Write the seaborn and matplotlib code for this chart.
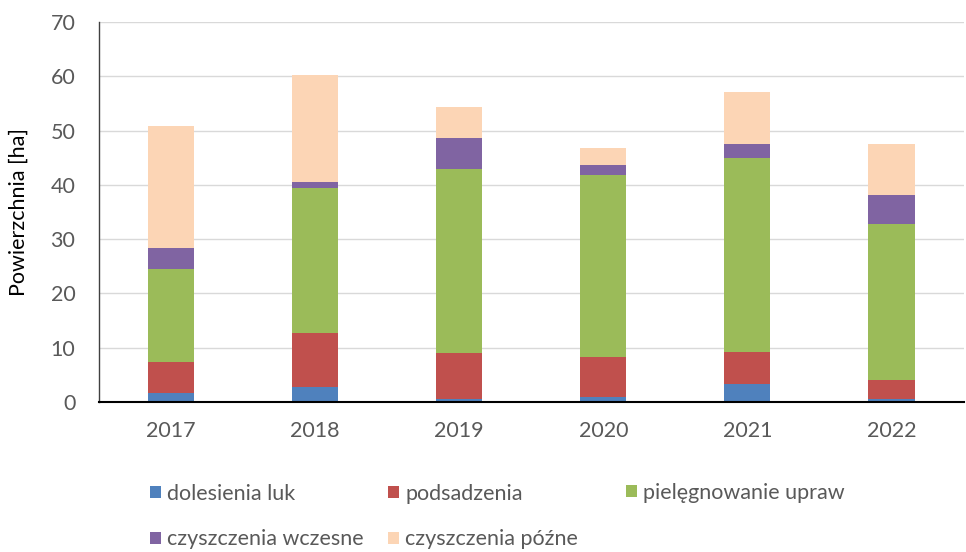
import numpy as np
import pandas as pd
import matplotlib
matplotlib.use("Agg")
import matplotlib.pyplot as plt
from matplotlib.patches import Patch
import seaborn as sns

years = ["2017", "2018", "2019", "2020", "2021", "2022"]
series_names = ["dolesienia luk", "podsadzenia", "pielęgnowanie upraw",
                "czyszczenia wczesne", "czyszczenia późne"]
dolesienia = [1.6, 2.8, 0.5, 1.0, 3.4, 0.5]
podsadzenia = [5.7, 10.0, 8.5, 7.3, 5.9, 3.55]
pielegnowanie = [17.2, 26.7, 34.0, 33.5, 35.6, 28.75]
czyszczenia_wczesne = [3.9, 1.1, 5.7, 1.9, 2.6, 5.3]
czyszczenia_pozne = [22.4, 19.6, 5.7, 3.1, 9.7, 9.4]
colors = ["#4F81BD", "#C0504D", "#9BBB59", "#8064A2", "#FCD5B5"]

sns.set_theme(style="white")
plt.rcParams["font.family"] = ["Lato", "DejaVu Sans"]

fig = plt.figure(figsize=(9.66, 5.52), dpi=100)
ax = fig.add_axes([0.1025, 0.2717, 0.895, 0.6884])

values = [dolesienia, podsadzenia, pielegnowanie, czyszczenia_wczesne, czyszczenia_pozne]
cum = np.cumsum(np.array(values), axis=0)

# draw cumulative totals, tallest first, so each segment shows its own colour
for i in range(len(values) - 1, -1, -1):
    df = pd.DataFrame({"year": years, "total": cum[i]})
    sns.barplot(data=df, x="year", y="total", color=colors[i], width=0.32,
                saturation=1, ax=ax, zorder=3, linewidth=0)

ax.set_ylim(0, 70)
ax.set_xlim(-0.5, 5.5)
ax.set_yticks(np.arange(0, 71, 10))
ax.yaxis.grid(True, color="#d9d9d9", linewidth=1.0, zorder=0)
ax.set_axisbelow(True)
for s in ["top", "right"]:
    ax.spines[s].set_visible(False)
ax.spines["left"].set_color("#404040")
ax.spines["left"].set_linewidth(1.0)
ax.spines["bottom"].set_color("#000000")
ax.spines["bottom"].set_linewidth(1.5)
ax.spines["bottom"].set_zorder(5)
ax.tick_params(axis="y", length=0, pad=17, labelsize=15.5, labelcolor="#595959")
ax.tick_params(axis="x", length=0, pad=14, labelsize=15.5, labelcolor="#595959")
ax.set_xlabel("")
ax.set_ylabel("Powierzchnia [ha]", fontsize=15.5, color="#000000", labelpad=16)

handles = [Patch(facecolor=c, edgecolor="none") for c in colors]
common = dict(frameon=False, fontsize=15.5, handlelength=0.5, handleheight=0.5,
              handletextpad=0.3, borderpad=0, borderaxespad=0, labelspacing=1.2,
              labelcolor="#595959")
fig.legend([handles[0], handles[3]], [series_names[0], series_names[3]],
           loc="center left", bbox_to_anchor=(150 / 966, 1 - 516.5 / 552), **common)
fig.legend([handles[1], handles[4]], [series_names[1], series_names[4]],
           loc="center left", bbox_to_anchor=(388 / 966, 1 - 516.5 / 552), **common)
fig.legend([handles[2]], [series_names[2]],
           loc="center left", bbox_to_anchor=(626 / 966, 1 - 493 / 552), **common)

fig.savefig("out.png", dpi=100)
